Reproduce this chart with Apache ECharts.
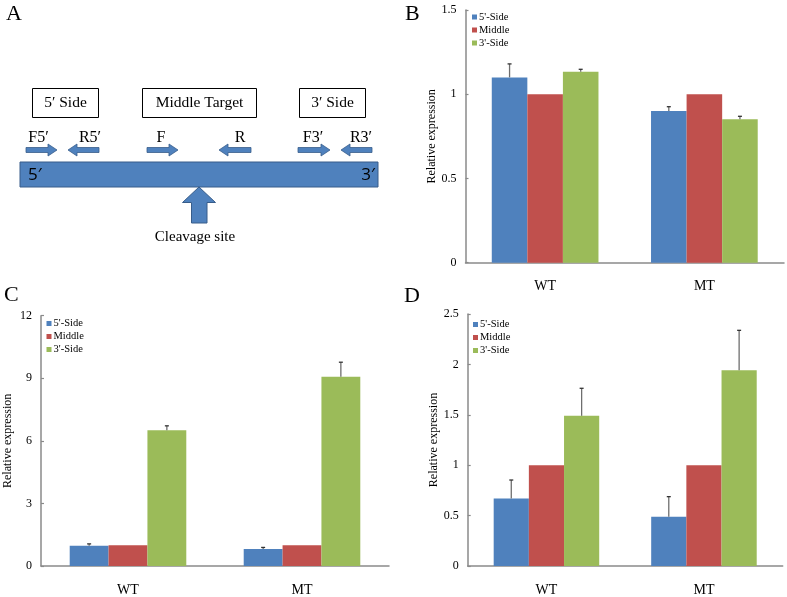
<!DOCTYPE html>
<html>
<head>
<meta charset="utf-8">
<script src="https://cdn.jsdelivr.net/npm/echarts@6/dist/echarts.min.js"></script>
<style>html,body{margin:0;padding:0;background:#fff}#c{width:787px;height:597px}</style>
</head>
<body>
<div id="c"></div>
<script>
// ---- data ----
const categories = ['WT', 'MT'];
const seriesNames = ["5'-Side", 'Middle', "3'-Side"];

const bSide5 = [1.10, 0.90];
const bMiddle = [1.0, 1.0];
const bSide3 = [1.133, 0.851];
const bSide5Err = [0.08, 0.026];
const bMiddleErr = [0, 0];
const bSide3Err = [0.015, 0.018];

const cSide5 = [0.97, 0.81];
const cMiddle = [1.0, 1.0];
const cSide3 = [6.51, 9.07];
const cSide5Err = [0.09, 0.08];
const cMiddleErr = [0, 0];
const cSide3Err = [0.21, 0.70];

const dSide5 = [0.67, 0.489];
const dMiddle = [1.0, 1.0];
const dSide3 = [1.49, 1.941];
const dSide5Err = [0.183, 0.199];
const dMiddleErr = [0, 0];
const dSide3Err = [0.273, 0.397];

const bTicks = [0, 0.5, 1, 1.5];
const cTicks = [0, 3, 6, 9, 12];
const dTicks = [0, 0.5, 1, 1.5, 2, 2.5];

// ---- style ----
const colors = ['#4f81bd', '#c0504d', '#9bbb59'];
const SERIF = '"Liberation Serif", "Times New Roman", serif';
const AXIS_C = '#8a8a8a';
const GAP = 0.33;

const panels = [
  {vals: [bSide5, bMiddle, bSide3], errs: [bSide5Err, bMiddleErr, bSide3Err], ticks: bTicks,
   grid: {left: 465.5, top: 10, width: 318.5, height: 252.7}, legend: {left: 472, top: 11}},
  {vals: [cSide5, cMiddle, cSide3], errs: [cSide5Err, cMiddleErr, cSide3Err], ticks: cTicks,
   grid: {left: 41, top: 315.7, width: 348, height: 251.3}, legend: {left: 46.5, top: 317.5}},
  {vals: [dSide5, dMiddle, dSide3], errs: [dSide5Err, dMiddleErr, dSide3Err], ticks: dTicks,
   grid: {left: 467.7, top: 314, width: 315, height: 252}, legend: {left: 473, top: 318.5}}
];

function renderErr(params, api) {
  const cat = api.value(0), s = api.value(1), mean = api.value(2), up = api.value(3);
  if (up <= mean) return null;
  const catW = api.size([1, 0])[0];
  const bw = catW * (1 - GAP) / 3;
  const base = api.coord([cat, mean]);
  const top = api.coord([cat, up]);
  const x = base[0] + (s - 1) * bw;
  return {type: 'group', children: [
    {type: 'line', shape: {x1: x, y1: base[1], x2: x, y2: top[1]}, style: {stroke: '#6e6e6e', lineWidth: 1.3}},
    {type: 'line', shape: {x1: x - 2, y1: top[1], x2: x + 2, y2: top[1]}, style: {stroke: '#333', lineWidth: 1.3}}
  ]};
}

const grids = [], xAxes = [], yAxes = [], series = [], legends = [];
panels.forEach((p, gi) => {
  grids.push(Object.assign({containLabel: false}, p.grid));
  xAxes.push({
    type: 'category', gridIndex: gi, data: categories,
    axisLine: {lineStyle: {color: AXIS_C, width: 1.5}},
    axisTick: {inside: true, length: 4, lineStyle: {color: AXIS_C, width: 1.2}},
    axisLabel: {color: '#000', fontFamily: SERIF, fontSize: 14, margin: 17},
    splitLine: {show: false}
  });
  const t = p.ticks;
  yAxes.push({
    type: 'value', gridIndex: gi, min: t[0], max: t[t.length - 1], interval: t[1] - t[0],
    name: 'Relative expression', nameLocation: 'middle', nameGap: 27,
    nameTextStyle: {color: '#000', fontFamily: SERIF, fontSize: 12},
    axisLine: {show: true, lineStyle: {color: AXIS_C, width: 1.5}},
    axisTick: {show: true, inside: true, length: 3, lineStyle: {color: AXIS_C, width: 1.2}},
    axisLabel: {color: '#000', fontFamily: SERIF, fontSize: 12, margin: 9},
    splitLine: {show: false}
  });
  p.vals.forEach((v, si) => {
    series.push({
      type: 'bar', name: seriesNames[si], xAxisIndex: gi, yAxisIndex: gi, data: v,
      barGap: '0%', barCategoryGap: (GAP * 100) + '%',
      itemStyle: {color: colors[si]}, z: 2
    });
  });
  const errData = [];
  p.vals.forEach((v, si) => {
    v.forEach((m, ci) => errData.push([ci, si, m, m + p.errs[si][ci]]));
  });
  series.push({
    type: 'custom', xAxisIndex: gi, yAxisIndex: gi, data: errData,
    encode: {x: 0, y: 3}, renderItem: renderErr, z: 5, silent: true
  });
  legends.push({
    orient: 'vertical', left: p.legend.left, top: p.legend.top, padding: 0,
    itemWidth: 5, itemHeight: 5, itemGap: 1, icon: 'rect', selectedMode: false,
    data: seriesNames,
    textStyle: {fontFamily: SERIF, fontSize: 10.5, color: '#000', lineHeight: 12, padding: [0, 0, 0, -3]}
  });
});

// ---- panel A diagram (graphic) ----
const BLUE = '#4f81bd', BLUE_D = '#385d8a';
function rArrow(x0, x1, yc) {
  return [[x0, yc - 2.5], [x1 - 9, yc - 2.5], [x1 - 9, yc - 6], [x1, yc], [x1 - 9, yc + 6], [x1 - 9, yc + 2.5], [x0, yc + 2.5]];
}
function lArrow(xTip, xTail, yc) {
  return [[xTail, yc - 2.5], [xTip + 9, yc - 2.5], [xTip + 9, yc - 6], [xTip, yc], [xTip + 9, yc + 6], [xTip + 9, yc + 2.5], [xTail, yc + 2.5]];
}
function txt(x, y, s, size, font, align) {
  return {type: 'text', x: x, y: y, style: {text: s, fontFamily: font || SERIF, fontSize: size, fill: '#000',
    textAlign: align || 'center', textVerticalAlign: 'middle'}};
}
function box(x, y, w, h) {
  return {type: 'rect', shape: {x: x, y: y, width: w, height: h}, style: {fill: '#fff', stroke: '#000', lineWidth: 1}};
}
const graphic = [
  txt(6, 14, 'A', 22, SERIF, 'left'),
  txt(405, 14, 'B', 22, SERIF, 'left'),
  txt(4, 295, 'C', 22, SERIF, 'left'),
  txt(404, 296, 'D', 22, SERIF, 'left'),
  box(32.5, 88.5, 66, 29), txt(65.5, 103, '5′ Side', 15.5),
  box(142.5, 88.5, 114, 29), txt(199.5, 103, 'Middle Target', 15.5),
  box(299.5, 88.5, 66, 29), txt(332.5, 103, '3′ Side', 15.5),
  txt(38.5, 137.5, 'F5′', 16), txt(90, 137.5, 'R5′', 16),
  txt(161, 137.5, 'F', 16), txt(240, 137.5, 'R', 16),
  txt(313, 137.5, 'F3′', 16), txt(361, 137.5, 'R3′', 16),
  {type: 'polygon', shape: {points: rArrow(26, 57, 150)}, style: {fill: BLUE, stroke: BLUE_D, lineWidth: 0.8}},
  {type: 'polygon', shape: {points: lArrow(68, 99, 150)}, style: {fill: BLUE, stroke: BLUE_D, lineWidth: 0.8}},
  {type: 'polygon', shape: {points: rArrow(147, 178, 150)}, style: {fill: BLUE, stroke: BLUE_D, lineWidth: 0.8}},
  {type: 'polygon', shape: {points: lArrow(219, 251, 150)}, style: {fill: BLUE, stroke: BLUE_D, lineWidth: 0.8}},
  {type: 'polygon', shape: {points: rArrow(298, 330, 150)}, style: {fill: BLUE, stroke: BLUE_D, lineWidth: 0.8}},
  {type: 'polygon', shape: {points: lArrow(341, 372, 150)}, style: {fill: BLUE, stroke: BLUE_D, lineWidth: 0.8}},
  {type: 'rect', shape: {x: 20, y: 162, width: 358, height: 25}, style: {fill: BLUE, stroke: BLUE_D, lineWidth: 1}},
  txt(28, 175.5, '5′', 17, '"Open Sans", "Liberation Sans", sans-serif', 'left'),
  txt(375, 175.5, '3′', 17, '"Open Sans", "Liberation Sans", sans-serif', 'right'),
  {type: 'polygon', shape: {points: [[199, 187], [215.5, 202.5], [207, 202.5], [207, 223], [191.5, 223], [191.5, 202.5], [182.5, 202.5]]},
   style: {fill: BLUE, stroke: BLUE_D, lineWidth: 1}},
  txt(195, 237, 'Cleavage site', 15)
];

const chart = echarts.init(document.getElementById('c'), null, {renderer: 'canvas'});
chart.setOption({
  animation: false,
  backgroundColor: '#fff',
  grid: grids, xAxis: xAxes, yAxis: yAxes, series: series, legend: legends,
  graphic: graphic
});
</script>
</body>
</html>
